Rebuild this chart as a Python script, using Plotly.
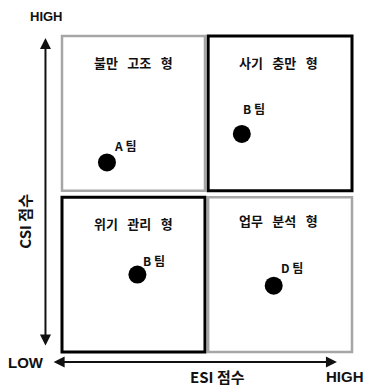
import plotly.graph_objects as go

# ---- data ----
teams = ["A 팀", "B 팀", "B 팀", "D 팀"]
esi_score = [15.5, 62, 26, 73]
csi_score = [60, 69, 24.5, 21]
quadrant_names = ["불만 고조 형", "사기 충만 형", "위기 관리 형", "업무 분석 형"]
quadrant_x = [24.65, 74.5, 24.65, 74.5]
quadrant_y = [91.5, 91.5, 40.8, 41.5]
x_axis_title = "ESI 점수"
y_axis_title = "CSI 점수"
low_label = "LOW"
high_label = "HIGH"

# ---- style ----
label_shift = [(18, 17), (12, 25), (17, 14), (18, 18)]
KFONT = "Noto Sans CJK KR"
LFONT = "Liberation Sans, Arial"

fig = go.Figure()
fig.add_trace(go.Scatter(
    x=esi_score, y=csi_score, mode="markers",
    marker=dict(size=18, color="black"), hoverinfo="skip", showlegend=False))

# quadrant boxes: (x0, x1, y0, y1, emphasised)
boxes = [(0, 49.3, 51, 100, False), (50.4, 100, 51, 100, True),
         (0, 49.3, 0, 49, True), (50.4, 100, 0, 49, False)]
for x0, x1, y0, y1, strong in boxes:
    fig.add_shape(type="rect", x0=x0, x1=x1, y0=y0, y1=y1,
                  line=dict(color="black" if strong else "#a6a6a6",
                            width=3 if strong else 2.5),
                  fillcolor="rgba(0,0,0,0)")

SP = "\u2002 "
for name, qx, qy in zip(quadrant_names, quadrant_x, quadrant_y):
    fig.add_annotation(x=qx, y=qy, text="<b>" + name.replace(" ", SP) + "</b>",
                       showarrow=False, font=dict(family=KFONT, size=13, color="#111"))

for t, x, y, (dx, dy) in zip(teams, esi_score, csi_score, label_shift):
    fig.add_annotation(x=x, y=y, text="<b>" + t + "</b>", showarrow=False,
                       xshift=dx, yshift=dy,
                       font=dict(family=KFONT, size=12, color="#111"))

# axis arrows
fig.add_annotation(x=-5.7, y=99.4, ax=-5.7, ay=1.6, axref="x", ayref="y",
                   xref="x", yref="y", text="", showarrow=True, arrowhead=2,
                   arrowside="end+start", arrowwidth=2, arrowsize=1.1, arrowcolor="#111",
                   standoff=0, startstandoff=0)
fig.add_annotation(x=94.8, y=-3.2, ax=-3.4, ay=-3.2, axref="x", ayref="y",
                   xref="x", yref="y", text="", showarrow=True, arrowhead=2,
                   arrowside="end+start", arrowwidth=2, arrowsize=1.1, arrowcolor="#111",
                   standoff=0, startstandoff=0)

# axis texts
fig.add_annotation(x=-5.2, y=106.3, text="<b>" + high_label + "</b>", showarrow=False,
                   font=dict(family=LFONT, size=13, color="#111"))
fig.add_annotation(x=-12.4, y=-3.2, text="<b>" + low_label + "</b>", showarrow=False,
                   font=dict(family=LFONT, size=15, color="#111"))
fig.add_annotation(x=97.6, y=-7.6, text="<b>" + high_label + "</b>", showarrow=False,
                   font=dict(family=LFONT, size=15, color="#111"))
fig.add_annotation(x=53.5, y=-7.6, text="<b>" + x_axis_title + "</b>", showarrow=False,
                   font=dict(family=KFONT, size=15, color="#111"))
fig.add_annotation(x=-12.8, y=41.5, text="<b>" + y_axis_title + "</b>", showarrow=False,
                   textangle=-90, font=dict(family=KFONT, size=15, color="#111"))

fig.update_layout(
    width=367, height=388, margin=dict(l=0, r=0, t=0, b=0),
    paper_bgcolor="white", plot_bgcolor="white",
    xaxis=dict(range=[-21.38, 105.17], visible=False, fixedrange=True),
    yaxis=dict(range=[-11.39, 111.39], visible=False, fixedrange=True),
)
fig.write_html("out.html", config={"displayModeBar": False},
               post_script="document.body.style.margin='0';document.body.style.overflow='hidden';")
